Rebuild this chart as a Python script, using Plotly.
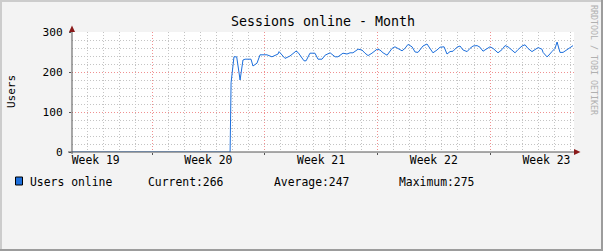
import plotly.graph_objects as go

# ---- data (time in days from start of Week 19, users online) ----
days = [2.03, 11.85, 11.91, 12.09, 12.26, 12.47, 12.65, 12.78, 13.15, 13.27, 13.52, 13.71,
        14.14, 14.45, 14.83, 14.89, 15.26, 15.57, 15.94, 16.07, 16.44, 16.57, 16.81, 17.12,
        17.31, 17.56, 17.75, 18.06, 18.37, 18.55, 18.86, 19.11, 19.30, 19.48, 19.80, 20.04,
        20.23, 20.42, 20.66, 20.98, 21.16, 21.35, 21.60, 21.91, 22.09, 22.28, 22.53, 22.71,
        22.90, 23.15, 23.34, 23.52, 23.83, 24.08, 24.27, 24.45, 24.70, 24.89, 25.14, 25.32,
        25.51, 25.70, 25.94, 26.13, 26.32, 26.57, 26.75, 26.94, 27.19, 27.37, 27.56, 27.81,
        27.99, 28.18, 28.49, 28.74, 28.93, 29.11, 29.36, 29.55, 29.73, 29.98, 30.17, 30.35,
        30.60, 30.79, 30.98, 31.22, 31.29, 31.53, 31.60, 31.84, 32.03, 32.16, 32.22, 32.34,
        32.53, 32.78, 32.96, 33.15]
users = [0, 0, 173, 238, 238, 180, 230, 232, 232, 215, 222, 243,
         243, 238, 245, 251, 234, 240, 252, 249, 228, 228, 247, 247,
         232, 232, 242, 248, 238, 238, 247, 245, 248, 248, 257, 255,
         247, 241, 247, 257, 255, 248, 242, 259, 263, 258, 253, 259,
         269, 263, 250, 249, 265, 270, 259, 248, 255, 262, 263, 245,
         251, 252, 262, 265, 255, 251, 259, 265, 266, 262, 252, 258,
         263, 259, 248, 256, 266, 263, 255, 248, 256, 265, 268, 259,
         251, 257, 261, 257, 249, 238, 240, 251, 259, 275, 268, 249,
         249, 256, 262, 266]

week_labels = ["Week 19", "Week 20", "Week 21", "Week 22", "Week 23"]
week_label_pos = [3.5, 10.5, 17.5, 24.5, 31.5]
week_bounds = [7, 14, 21, 28]
y_ticks = [0, 100, 200, 300]
x_range = [2.03, 33.21]
y_range = [0, 300]

legend_name = "Users online"
stat_labels = ["Current:266", "Average:247", "Maximum:275"]

title = "Sessions online - Month"
y_title = "Users"
watermark = "RRDTOOL / TOBI OETIKER"

# ---- layout geometry (pixels) ----
W, H = 603, 251
L, R, T, B = 72, 574, 32, 152


def px(x):
    return (x - L) / (R - L)


def py(y):
    return (B - y) / (B - T)


FONT = "DejaVu Sans Mono"
LINE_COLOR = "#1d6fdc"
MINOR_GRID = "#c4c4c4"
MAJOR_GRID = "#f09090"
DASH = "1px,2px"
AXIS_COLOR = "#555555"
ARROW_COLOR = "#8a1a1a"

fig = go.Figure()
fig.add_trace(go.Scatter(x=days, y=users, mode="lines",
                         line=dict(color=LINE_COLOR, width=1), showlegend=False,
                         hoverinfo="skip"))
# invisible copy on x2 so the week-boundary axis renders
fig.add_trace(go.Scatter(x=days, y=users, mode="lines", xaxis="x2",
                         line=dict(color="rgba(0,0,0,0)", width=0), showlegend=False,
                         hoverinfo="skip"))

fig.update_layout(
    width=W, height=H,
    margin=dict(l=L, r=W - R, t=T, b=H - B, pad=0),
    paper_bgcolor="#f3f3f3", plot_bgcolor="#ffffff",
    showlegend=False,
    font=dict(family=FONT, size=11, color="#000000"),
    title=dict(text=title, x=0.5, xanchor="center", xref="paper",
               y=1 - 21 / H, yanchor="middle", yref="container",
               font=dict(family=FONT, size=13.3, color="#000000")),
    xaxis=dict(range=x_range, showgrid=False, zeroline=False, showline=False,
               tickvals=week_label_pos, ticktext=week_labels, ticks="",
               tickfont=dict(family=FONT, size=11.4),
               minor=dict(dtick=1, tick0=0, showgrid=True, gridcolor=MINOR_GRID,
                          griddash=DASH, gridwidth=1, ticks=""),
               fixedrange=True),
    xaxis2=dict(range=x_range, overlaying="x", side="bottom", showgrid=True,
                gridcolor=MAJOR_GRID, griddash=DASH, gridwidth=1,
                tickvals=week_bounds, showticklabels=False, ticks="outside",
                ticklen=2, tickcolor=AXIS_COLOR, zeroline=False, showline=False),
    yaxis=dict(range=y_range, tickvals=y_ticks, showgrid=True, gridcolor=MAJOR_GRID,
               griddash=DASH, gridwidth=1, zeroline=False, showline=False,
               ticks="outside", ticklen=2, tickcolor=AXIS_COLOR,
               tickfont=dict(family=FONT, size=11.2),
               ticklabelstandoff=4,
               minor=dict(dtick=20, tick0=0, showgrid=True, gridcolor=MINOR_GRID,
                          griddash=DASH, gridwidth=1),
               fixedrange=True),
)

shapes = []
# axis lines
shapes.append(dict(type="line", xref="paper", yref="paper", x0=px(L), x1=px(L),
                   y0=py(B + 2), y1=py(28), line=dict(color=AXIS_COLOR, width=1)))
shapes.append(dict(type="line", xref="paper", yref="paper", x0=px(68), x1=px(576),
                   y0=py(B), y1=py(B), line=dict(color=AXIS_COLOR, width=1)))
# arrows
shapes.append(dict(type="path", xref="paper", yref="paper",
                   path=f"M {px(69)} {py(32)} L {px(75)} {py(32)} L {px(72)} {py(25.5)} Z",
                   fillcolor=ARROW_COLOR, line=dict(width=0)))
shapes.append(dict(type="path", xref="paper", yref="paper",
                   path=f"M {px(574)} {py(149)} L {px(574)} {py(155)} L {px(580.5)} {py(152)} Z",
                   fillcolor=ARROW_COLOR, line=dict(width=0)))
# legend swatch
shapes.append(dict(type="rect", xref="paper", yref="paper",
                   x0=px(15.5), x1=px(22.5), y0=py(177), y1=py(185),
                   fillcolor=LINE_COLOR, line=dict(color="#000000", width=1)))
# frame
shapes.append(dict(type="line", xref="paper", yref="paper", x0=px(0), x1=px(W),
                   y0=py(1), y1=py(1), line=dict(color="#cccccc", width=2)))
shapes.append(dict(type="line", xref="paper", yref="paper", x0=px(1), x1=px(1),
                   y0=py(0), y1=py(H), line=dict(color="#cccccc", width=2)))
shapes.append(dict(type="line", xref="paper", yref="paper", x0=px(0), x1=px(W),
                   y0=py(H - 1), y1=py(H - 1), line=dict(color="#9c9c9c", width=2)))
shapes.append(dict(type="line", xref="paper", yref="paper", x0=px(W - 1), x1=px(W - 1),
                   y0=py(0), y1=py(H), line=dict(color="#9c9c9c", width=2)))
fig.update_layout(shapes=shapes)

ann = []
ann.append(dict(text=y_title, xref="paper", yref="paper", x=px(11), y=py(92),
                textangle=-90, showarrow=False, xanchor="center", yanchor="middle",
                font=dict(family=FONT, size=11, color="#000000")))
ann.append(dict(text=watermark, xref="paper", yref="paper", x=px(594), y=py(60),
                textangle=90, showarrow=False, xanchor="center", yanchor="middle",
                font=dict(family=FONT, size=8.3, color="#b0b0b0")))
ann.append(dict(text=legend_name, xref="paper", yref="paper", x=px(28), y=py(181.5),
                showarrow=False, xanchor="left", yanchor="middle",
                font=dict(family=FONT, size=11.4, color="#000000")))
for xpos, s in zip([146, 272, 397], stat_labels):
    ann.append(dict(text=s, xref="paper", yref="paper", x=px(xpos), y=py(181.5),
                    showarrow=False, xanchor="left", yanchor="middle",
                    font=dict(family=FONT, size=11.4, color="#000000")))
fig.update_layout(annotations=ann)

fig.write_html("out.html")
